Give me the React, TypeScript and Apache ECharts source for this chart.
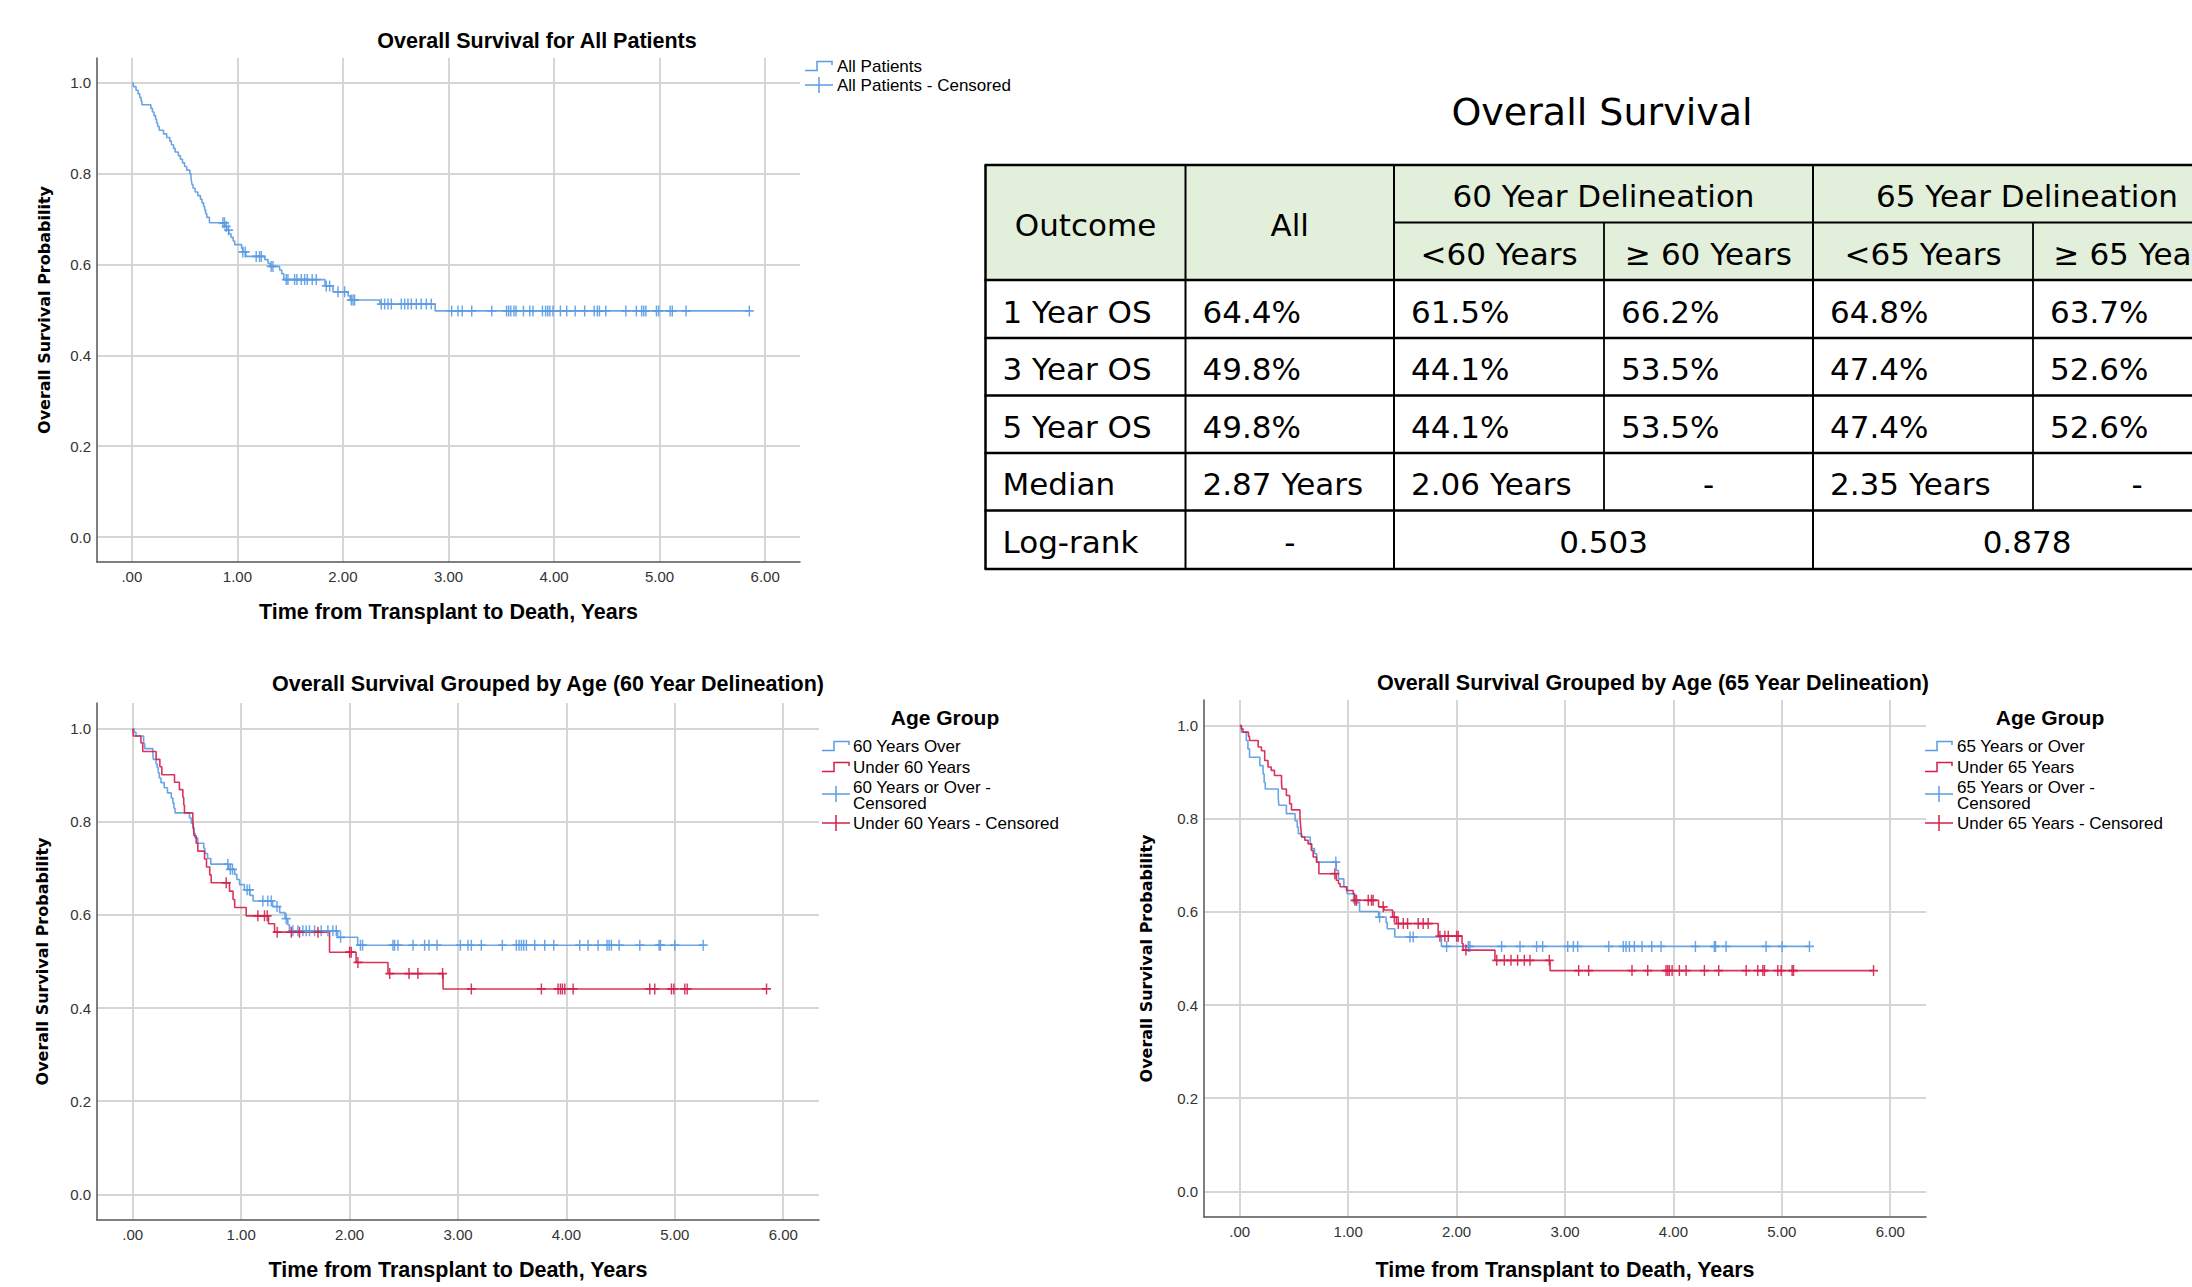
import React, { useEffect, useRef } from "react";
import * as echarts from "echarts";

// ---------- axis ticks ----------
const xTickValues = [0, 1, 2, 3, 4, 5, 6];
const xTickLabels = [".00", "1.00", "2.00", "3.00", "4.00", "5.00", "6.00"];
const yTickValues = [0, 0.2, 0.4, 0.6, 0.8, 1.0];
const yTickLabels = ["0.0", "0.2", "0.4", "0.6", "0.8", "1.0"];
const xAxisName = "Time from Transplant to Death, Years";
const yAxisName = "Overall Survival Probability";

// ---------- chart titles / legend names ----------
const chartTitles = [
  "Overall Survival for All Patients",
  "Overall Survival Grouped by Age (60 Year Delineation)",
  "Overall Survival Grouped by Age (65 Year Delineation)",
];
const legendTitle = "Age Group";
const allNames = ["All Patients", "All Patients - Censored"];
const age60Names = ["60 Years Over", "Under 60 Years", "60 Years or Over -\nCensored", "Under 60 Years - Censored"];
const age65Names = ["65 Years or Over", "Under 65 Years", "65 Years or Over -\nCensored", "Under 65 Years - Censored"];

// ---------- Kaplan-Meier data: [time of event, survival after event] ----------
const allEvents = [
  [0.013, 0.992], [0.04, 0.984], [0.06, 0.976], [0.075, 0.968], [0.088, 0.96], [0.095, 0.952],
  [0.18, 0.944], [0.195, 0.936], [0.21, 0.928], [0.225, 0.92], [0.235, 0.912], [0.245, 0.904],
  [0.26, 0.896], [0.3, 0.888], [0.33, 0.88], [0.36, 0.872], [0.375, 0.864], [0.395, 0.856],
  [0.41, 0.848], [0.44, 0.84], [0.46, 0.832], [0.48, 0.824], [0.5, 0.816], [0.52, 0.808],
  [0.55, 0.8], [0.56, 0.792], [0.565, 0.784], [0.57, 0.776], [0.58, 0.768], [0.6, 0.76],
  [0.625, 0.752], [0.65, 0.744], [0.665, 0.736], [0.68, 0.728], [0.69, 0.72], [0.7, 0.712],
  [0.71, 0.704], [0.735, 0.692], [0.88, 0.684], [0.9, 0.676], [0.92, 0.668], [0.94, 0.66],
  [0.96, 0.652], [0.975, 0.644], [1.04, 0.636], [1.05, 0.628], [1.08, 0.618], [1.26, 0.611],
  [1.29, 0.603], [1.31, 0.596], [1.4, 0.588], [1.42, 0.58], [1.44, 0.567], [1.83, 0.553],
  [1.905, 0.54], [2.05, 0.531], [2.07, 0.522], [2.35, 0.513], [2.874, 0.498],
];
const allCensored = [
  0.863, 0.878, 0.894, 0.916, 1.052, 1.074, 1.178, 1.21, 1.226, 1.32, 1.337, 1.463, 1.479, 1.542,
  1.564, 1.605, 1.637, 1.662, 1.709, 1.747, 1.842, 1.874, 1.953, 2.016, 2.079, 2.095, 2.11, 2.363,
  2.395, 2.427, 2.458, 2.553, 2.585, 2.616, 2.648, 2.695, 2.742, 2.79, 2.837, 3.03, 3.09, 3.13,
  3.22, 3.41, 3.55, 3.57, 3.59, 3.62, 3.64, 3.71, 3.77, 3.8, 3.89, 3.92, 3.94, 3.96, 3.99, 4.06,
  4.12, 4.2, 4.29, 4.38, 4.41, 4.43, 4.49, 4.68, 4.78, 4.83, 4.85, 4.87, 4.97, 4.99, 5.1, 5.12,
  5.25, 5.85,
];

const over60Events = [
  [0.012, 0.992], [0.03, 0.984], [0.1, 0.968], [0.11, 0.957], [0.185, 0.946], [0.19, 0.934],
  [0.215, 0.924], [0.225, 0.916], [0.235, 0.905], [0.245, 0.894], [0.26, 0.884], [0.29, 0.873],
  [0.32, 0.862], [0.355, 0.851], [0.37, 0.84], [0.38, 0.829], [0.39, 0.819], [0.523, 0.808],
  [0.54, 0.797], [0.555, 0.786], [0.565, 0.775], [0.575, 0.765], [0.6, 0.754], [0.655, 0.743],
  [0.665, 0.732], [0.69, 0.721], [0.72, 0.709], [0.883, 0.698], [0.94, 0.687], [0.96, 0.676],
  [0.985, 0.665], [1.03, 0.654], [1.08, 0.642], [1.11, 0.63], [1.29, 0.618], [1.355, 0.605],
  [1.405, 0.592], [1.43, 0.579], [1.445, 0.566], [1.89, 0.552], [2.075, 0.535],
];
const over60Censored = [
  0.877, 0.9, 0.92, 1.055, 1.077, 1.2, 1.246, 1.277, 1.33, 1.415, 1.477, 1.523, 1.569, 1.6, 1.63,
  1.677, 1.738, 1.8, 1.846, 1.877, 1.917, 2.1, 2.12, 2.4, 2.415, 2.446, 2.585, 2.692, 2.732, 2.806,
  3.022, 3.092, 3.123, 3.215, 3.409, 3.538, 3.563, 3.585, 3.606, 3.631, 3.708, 3.8, 3.883, 4.123,
  4.2, 4.292, 4.375, 4.394, 4.415, 4.486, 4.677, 4.855, 4.868, 5.0, 5.262,
];
const under60Events = [
  [0.005, 0.984], [0.075, 0.969], [0.092, 0.951], [0.215, 0.934], [0.25, 0.918], [0.268, 0.901],
  [0.385, 0.885], [0.43, 0.869], [0.462, 0.852], [0.47, 0.836], [0.477, 0.819], [0.554, 0.803],
  [0.56, 0.787], [0.565, 0.77], [0.585, 0.754], [0.6, 0.737], [0.662, 0.72], [0.68, 0.703],
  [0.71, 0.686], [0.723, 0.669], [0.892, 0.651], [0.925, 0.633], [0.94, 0.616], [1.046, 0.598],
  [1.252, 0.581], [1.308, 0.563], [1.815, 0.52], [2.06, 0.498], [2.354, 0.474], [2.862, 0.441],
];
const under60Censored = [
  0.862, 1.154, 1.215, 1.24, 1.332, 1.462, 1.538, 1.708, 2.0, 2.015, 2.077, 2.37, 2.548, 2.63,
  2.858, 3.123, 3.769, 3.923, 3.945, 3.963, 3.985, 4.062, 4.769, 4.815, 4.969, 4.991, 5.092, 5.114,
  5.846,
];

const over65Events = [
  [0.015, 0.986], [0.06, 0.968], [0.075, 0.95], [0.09, 0.932], [0.185, 0.914], [0.215, 0.896],
  [0.225, 0.878], [0.235, 0.864], [0.355, 0.846], [0.36, 0.829], [0.43, 0.811], [0.51, 0.796],
  [0.53, 0.782], [0.54, 0.768], [0.57, 0.761], [0.65, 0.746], [0.665, 0.736], [0.69, 0.725],
  [0.71, 0.707], [0.89, 0.689], [0.91, 0.671], [0.96, 0.654], [0.99, 0.639], [1.05, 0.62],
  [1.105, 0.601], [1.28, 0.589], [1.35, 0.577], [1.36, 0.564], [1.43, 0.546], [1.86, 0.526],
];
const over65Censored = [
  0.886, 1.29, 1.57, 1.6, 1.908, 2.108, 2.123, 2.415, 2.585, 2.738, 2.794, 3.025, 3.077, 3.117,
  3.403, 3.538, 3.563, 3.594, 3.64, 3.711, 3.8, 3.886, 4.203, 4.378, 4.388, 4.486, 4.855, 5.003,
  5.255,
];
const under65Events = [
  [0.015, 0.993], [0.03, 0.986], [0.08, 0.977], [0.09, 0.968], [0.17, 0.954], [0.2, 0.946],
  [0.23, 0.925], [0.26, 0.911], [0.29, 0.904], [0.32, 0.893], [0.385, 0.878], [0.39, 0.864],
  [0.43, 0.85], [0.46, 0.832], [0.477, 0.819], [0.555, 0.804], [0.56, 0.789], [0.565, 0.775],
  [0.57, 0.761], [0.6, 0.754], [0.63, 0.746], [0.66, 0.732], [0.677, 0.718], [0.708, 0.707],
  [0.73, 0.682], [0.89, 0.668], [0.91, 0.661], [0.925, 0.654], [0.985, 0.646], [1.046, 0.639],
  [1.06, 0.625], [1.28, 0.611], [1.33, 0.604], [1.41, 0.589], [1.445, 0.575], [1.83, 0.548],
  [2.05, 0.532], [2.06, 0.518], [2.354, 0.496], [2.862, 0.474],
];
const under65Censored = [
  0.877, 1.062, 1.077, 1.185, 1.215, 1.23, 1.323, 1.425, 1.462, 1.508, 1.548, 1.646, 1.692, 1.738,
  1.846, 1.892, 1.923, 2.0, 2.015, 2.086, 2.37, 2.44, 2.502, 2.563, 2.625, 2.677, 2.855, 3.126,
  3.218, 3.618, 3.763, 3.932, 3.948, 3.963, 3.988, 4.055, 4.117, 4.286, 4.418, 4.671, 4.778, 4.825,
  4.84, 4.963, 4.994, 5.095, 5.108, 5.846,
];

// ---------- table ----------
const tableTitle = "Overall Survival";
const headOutcome = "Outcome";
const headAll = "All";
const headGroups = ["60 Year Delineation", "65 Year Delineation"];
const headSub = ["<60 Years", "\u2265 60 Years", "<65 Years", "\u2265 65 Years"];
const rowLabels = ["1 Year OS", "3 Year OS", "5 Year OS", "Median", "Log-rank"];
const colAll = ["64.4%", "49.8%", "49.8%", "2.87 Years", "-"];
const colUnder60 = ["61.5%", "44.1%", "44.1%", "2.06 Years"];
const colOver60 = ["66.2%", "53.5%", "53.5%", "-"];
const colUnder65 = ["64.8%", "47.4%", "47.4%", "2.35 Years"];
const colOver65 = ["63.7%", "52.6%", "52.6%", "-"];
const logRank = ["0.503", "0.878"];

// ---------- style ----------
const FONT = "Liberation Sans";
const TFONT = "DejaVu Sans";
const BLUE = "#5b9be3";
const RED = "#d41f4a";
const GRIDC = "#d6d6d6";
const X_MIN = -0.33;
const X_MAX = 6.33;
const Y_MIN = -0.055;
const Y_MAX = 1.055;
const PLUS = "path://M4.2,0H5.8V4.2H10V5.8H5.8V10H4.2V5.8H0V4.2H4.2Z";

function labelFor(vals: number[], labels: string[], v: number) {
  const i = vals.findIndex((t) => Math.abs(t - v) < 1e-6);
  return i >= 0 ? labels[i] : "";
}
function survAt(events: number[][], t: number) {
  let s = 1;
  for (const [et, es] of events) {
    if (et <= t) s = es;
    else break;
  }
  return s;
}
function stepData(events: number[][], censored: number[]) {
  const endT = Math.max(censored[censored.length - 1], events[events.length - 1][0]);
  return [[0, 1], ...events, [endT, events[events.length - 1][1]]];
}
function censorData(events: number[][], censored: number[]) {
  return censored.map((t) => [t, survAt(events, t)]);
}

function xAxisCfg(gridIndex: number, nameGap: number) {
  return {
    type: "value",
    gridIndex,
    min: X_MIN,
    max: X_MAX,
    name: xAxisName,
    nameLocation: "middle",
    nameGap,
    nameTextStyle: { fontFamily: FONT, fontWeight: "bold", fontSize: 21.5, color: "#000" },
    axisLine: { show: true, onZero: false, lineStyle: { color: "#555", width: 1.5 } },
    axisTick: { show: false },
    splitLine: { show: false },
    axisLabel: {
      margin: 7,
      fontFamily: FONT,
      fontSize: 15,
      color: "#333",
      formatter: (v: number) => labelFor(xTickValues, xTickLabels, v),
    },
  };
}
function yAxisCfg(gridIndex: number, nameGap: number) {
  return {
    type: "value",
    gridIndex,
    min: Y_MIN,
    max: Y_MAX,
    name: yAxisName,
    nameLocation: "middle",
    nameRotate: 90,
    nameGap,
    nameTextStyle: { fontFamily: TFONT, fontWeight: "bold", fontSize: 16, color: "#000" },
    axisLine: { show: true, onZero: false, lineStyle: { color: "#555", width: 1.5 } },
    axisTick: { show: false },
    splitLine: { show: false },
    axisLabel: {
      margin: 6,
      fontFamily: FONT,
      fontSize: 15,
      color: "#333",
      formatter: (v: number) => labelFor(yTickValues, yTickLabels, v),
    },
  };
}
function gridLineSeries(idx: number) {
  return {
    type: "line",
    xAxisIndex: idx,
    yAxisIndex: idx,
    data: [],
    z: 0,
    silent: true,
    markLine: {
      silent: true,
      z: 0,
      symbol: ["none", "none"],
      label: { show: false },
      emphasis: { disabled: true },
      lineStyle: { color: GRIDC, width: 2, type: "solid" },
      data: [...xTickValues.map((v) => ({ xAxis: v })), ...yTickValues.map((v) => ({ yAxis: v }))],
    },
  };
}
function kmLine(idx: number, name: string, color: string, events: number[][], censored: number[]) {
  return {
    type: "line",
    name,
    xAxisIndex: idx,
    yAxisIndex: idx,
    step: "end",
    showSymbol: false,
    z: 3,
    lineStyle: { color, width: 1.6, opacity: 0.9 },
    data: stepData(events, censored),
  };
}
function kmCensor(idx: number, name: string, color: string, events: number[][], censored: number[]) {
  return {
    type: "scatter",
    name,
    xAxisIndex: idx,
    yAxisIndex: idx,
    symbol: PLUS,
    symbolSize: [9, 11],
    z: 4,
    itemStyle: { color, opacity: 0.9 },
    data: censorData(events, censored),
  };
}

function txt(x: number, y: number, text: string, opts: any = {}) {
  return {
    type: "text",
    x,
    y,
    z: 10,
    style: {
      text,
      fontFamily: opts.family || FONT,
      fontSize: opts.size || 17,
      fontWeight: opts.weight || "normal",
      fill: opts.color || "#000",
      align: opts.align || "left",
      verticalAlign: "middle",
      lineHeight: opts.lineHeight,
    },
  };
}
function hline(x1: number, x2: number, y: number, w: number, color = "#000") {
  return { type: "line", z: 9, shape: { x1, y1: y, x2, y2: y }, style: { stroke: color, lineWidth: w } };
}
function vline(x: number, y1: number, y2: number, w: number, color = "#000") {
  return { type: "line", z: 9, shape: { x1: x, y1, x2: x, y2 }, style: { stroke: color, lineWidth: w } };
}
function stepIcon(x: number, y: number, color: string) {
  return {
    type: "polyline",
    z: 10,
    shape: { points: [[x, y + 4.5], [x + 12, y + 4.5], [x + 12, y - 4.5], [x + 27, y - 4.5], [x + 27, y - 1]] },
    style: { stroke: color, fill: "none", lineWidth: 1.5 },
  };
}
function plusIcon(x: number, y: number, color: string) {
  return [hline(x, x + 28, y, 1.5, color), vline(x + 14, y - 8, y + 8, 1.5, color)];
}

function buildGraphics() {
  const g: any[] = [];
  // chart titles
  g.push(txt(537, 41, chartTitles[0], { size: 21.5, weight: "bold", align: "center" }));
  g.push(txt(548, 684, chartTitles[1], { size: 21.5, weight: "bold", align: "center" }));
  g.push(txt(1653, 683, chartTitles[2], { size: 21.5, weight: "bold", align: "center" }));

  // legend chart 1
  g.push(stepIcon(805, 66, BLUE), txt(837, 66, allNames[0], { size: 17 }));
  g.push(...plusIcon(805, 85, BLUE), txt(837, 85, allNames[1], { size: 17 }));

  // legends chart 2 & 3
  const legends = [
    { cx: 945, ix: 822, tx: 853, names: age60Names },
    { cx: 2050, ix: 1925, tx: 1957, names: age65Names },
  ];
  for (const L of legends) {
    g.push(txt(L.cx, 717, legendTitle, { size: 21, weight: "bold", align: "center" }));
    g.push(stepIcon(L.ix, 746, BLUE), txt(L.tx, 746, L.names[0], { size: 17 }));
    g.push(stepIcon(L.ix, 767, RED), txt(L.tx, 767, L.names[1], { size: 17 }));
    g.push(...plusIcon(L.ix, 794, BLUE), txt(L.tx, 795, L.names[2], { size: 17, lineHeight: 16 }));
    g.push(...plusIcon(L.ix, 823, RED), txt(L.tx, 823, L.names[3], { size: 17 }));
  }

  // table
  const cx = [985.5, 1185.5, 1394, 1604, 1813, 2033, 2241];
  const ry = [165, 222.5, 280, 338, 395.5, 453, 510.5, 569];
  const TS = 31;
  const PAD = 17;
  g.push(txt(1602, 112, tableTitle, { family: TFONT, size: 38, align: "center" }));
  g.push({ type: "rect", z: 8, shape: { x: cx[0], y: ry[0], width: cx[6] - cx[0], height: ry[2] - ry[0] }, style: { fill: "#e2efda" } });
  // horizontal borders
  g.push(hline(cx[0] - 1, cx[6], ry[0], 2.5));
  g.push(hline(cx[2], cx[6], ry[1], 2));
  g.push(hline(cx[0] - 1, cx[6], ry[2], 2.5));
  for (let i = 3; i < 7; i++) g.push(hline(cx[0] - 1, cx[6], ry[i], 2.5));
  g.push(hline(cx[0] - 1, cx[6], ry[7], 2.5));
  // vertical borders
  g.push(vline(cx[0], ry[0], ry[7], 2.5));
  g.push(vline(cx[1], ry[0], ry[7], 2));
  g.push(vline(cx[2], ry[0], ry[7], 2));
  g.push(vline(cx[3], ry[1], ry[6], 1.8));
  g.push(vline(cx[4], ry[0], ry[7], 2));
  g.push(vline(cx[5], ry[1], ry[6], 1.8));
  g.push(vline(cx[6], ry[0], ry[7], 2));

  const mid = (a: number, b: number) => (a + b) / 2;
  const T = (x: number, y: number, s: string, align = "center") => txt(x, y, s, { family: TFONT, size: TS, align });
  const hy = 2.5;
  g.push(T(mid(cx[0], cx[1]), mid(ry[0], ry[2]) + hy, headOutcome));
  g.push(T(mid(cx[1], cx[2]), mid(ry[0], ry[2]) + hy, headAll));
  g.push(T(mid(cx[2], cx[4]), mid(ry[0], ry[1]) + hy, headGroups[0]));
  g.push(T(mid(cx[4], cx[6]), mid(ry[0], ry[1]) + hy, headGroups[1]));
  for (let i = 0; i < 4; i++) g.push(T(mid(cx[2 + i], cx[3 + i]), mid(ry[1], ry[2]) + hy, headSub[i]));

  const cols = [colAll, colUnder60, colOver60, colUnder65, colOver65];
  for (let r = 0; r < rowLabels.length; r++) {
    const y = mid(ry[2 + r], ry[3 + r]) + 2.5;
    g.push(T(cx[0] + PAD, y, rowLabels[r], "left"));
    for (let c = 0; c < cols.length; c++) {
      const v = cols[c][r];
      if (v === undefined) continue;
      if (v === "-") g.push(T(mid(cx[1 + c], cx[2 + c]), y, v));
      else g.push(T(cx[1 + c] + PAD, y, v, "left"));
    }
    if (r === rowLabels.length - 1) {
      g.push(T(mid(cx[2], cx[4]), y, logRank[0]));
      g.push(T(mid(cx[4], cx[6]), y, logRank[1]));
    }
  }
  return g;
}

export default function App() {
  const ref = useRef<HTMLDivElement>(null);
  useEffect(() => {
    if (!ref.current) return;
    const chart = echarts.init(ref.current, undefined, { renderer: "svg" });
    const option: any = {
      animation: false,
      backgroundColor: "#ffffff",
      grid: [
        { left: 97, top: 58, width: 703, height: 504 },
        { left: 97, top: 703, width: 722, height: 517 },
        { left: 1204, top: 700, width: 722, height: 517 },
      ],
      xAxis: [xAxisCfg(0, 39), xAxisCfg(1, 39), xAxisCfg(2, 42)],
      yAxis: [yAxisCfg(0, 45), yAxisCfg(1, 47), yAxisCfg(2, 50)],
      series: [
        gridLineSeries(0),
        gridLineSeries(1),
        gridLineSeries(2),
        kmLine(0, allNames[0], BLUE, allEvents, allCensored),
        kmCensor(0, allNames[1], BLUE, allEvents, allCensored),
        kmLine(1, age60Names[0], BLUE, over60Events, over60Censored),
        kmLine(1, age60Names[1], RED, under60Events, under60Censored),
        kmCensor(1, age60Names[2], BLUE, over60Events, over60Censored),
        kmCensor(1, age60Names[3], RED, under60Events, under60Censored),
        kmLine(2, age65Names[0], BLUE, over65Events, over65Censored),
        kmLine(2, age65Names[1], RED, under65Events, under65Censored),
        kmCensor(2, age65Names[2], BLUE, over65Events, over65Censored),
        kmCensor(2, age65Names[3], RED, under65Events, under65Censored),
      ],
      graphic: buildGraphics(),
    };
    chart.setOption(option);
    return () => chart.dispose();
  }, []);
  return (
    <div
      ref={ref}
      style={{ position: "absolute", left: 0, top: 0, width: "2192px", height: "1287px", background: "#fff" }}
    />
  );
}
